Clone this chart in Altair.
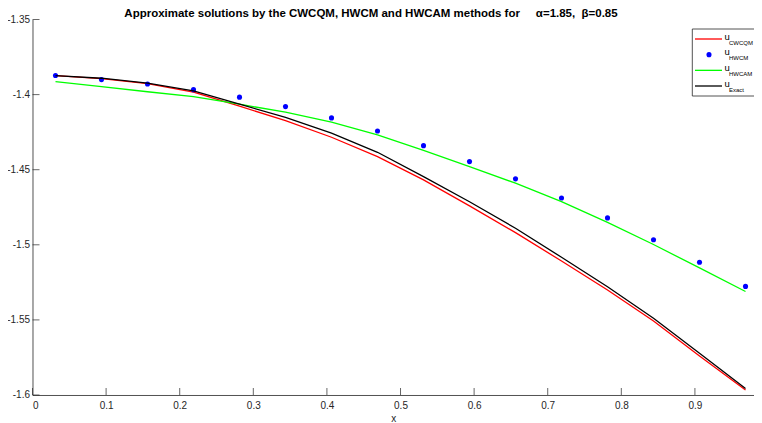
import altair as alt
import pandas as pd

# ---- data ----
x_nodes = [0.03125, 0.09375, 0.15625, 0.21875, 0.28125, 0.34375, 0.40625, 0.46875,
           0.53125, 0.59375, 0.65625, 0.71875, 0.78125, 0.84375, 0.90625, 0.96875]
u_cwcqm = [-1.3873, -1.3893, -1.3927, -1.3984, -1.4077, -1.4173, -1.4284, -1.4413,
           -1.4568, -1.4741, -1.4919, -1.5108, -1.5301, -1.5507, -1.5740, -1.5967]
u_hwcm = [-1.3873, -1.3900, -1.3929, -1.3967, -1.4017, -1.4080, -1.4155, -1.4242,
          -1.4340, -1.4446, -1.4561, -1.4688, -1.4821, -1.4966, -1.5116, -1.5277]
u_hwcam = [-1.3913, -1.3947, -1.3981, -1.4014, -1.4064, -1.4117, -1.4184, -1.4268,
           -1.4372, -1.4480, -1.4590, -1.4713, -1.4851, -1.4998, -1.5154, -1.5311]
u_exact = [-1.3873, -1.3891, -1.3924, -1.3975, -1.4064, -1.4151, -1.4257, -1.4384,
           -1.4546, -1.4713, -1.4890, -1.5083, -1.5279, -1.5489, -1.5722, -1.5957]

x_ticks = [0, 0.1, 0.2, 0.3, 0.4, 0.5, 0.6, 0.7, 0.8, 0.9]
y_ticks = [-1.6, -1.55, -1.5, -1.45, -1.4, -1.35]

legend_names = ["CWCQM", "HWCM", "HWCAM", "Exact"]
legend_kinds = ["line", "point", "line", "line"]
legend_colors = ["#ff0000", "#0000ff", "#00ff00", "#000000"]

NB = "\u00a0"
title_text = ("Approximate solutions by the CWCQM, HWCM and HWCAM methods for"
              + NB * 5 + "\u03b1=1.85," + NB * 2 + "\u03b2=0.85")

# ---- layout ----
W, H = 721.3, 375.5
AX = "#262626"
FONT = "Liberation Sans"

df = pd.DataFrame({
    "x": x_nodes * 4,
    "u": u_cwcqm + u_hwcm + u_hwcam + u_exact,
    "series": ["CWCQM"] * 16 + ["HWCM"] * 16 + ["HWCAM"] * 16 + ["Exact"] * 16,
})

xscale = alt.Scale(domain=[0, 0.98], nice=False, zero=False)
yscale = alt.Scale(domain=[-1.6, -1.35], nice=False, zero=False)
xaxis = alt.Axis(values=x_ticks, labelExpr="'' + datum.value", title="x",
                 labelPadding=6, titlePadding=3)
yaxis = alt.Axis(values=y_ticks, labelExpr="'' + datum.value", title=None,
                 labelPadding=3)


def X(field):
    return alt.X(field, type="quantitative", scale=xscale, axis=xaxis)


def Y(field):
    return alt.Y(field, type="quantitative", scale=yscale, axis=yaxis)


base = alt.Chart(df)
red = base.transform_filter(alt.datum.series == "CWCQM").mark_line(
    color="#ff0000", strokeWidth=1.3).encode(x=X("x"), y=Y("u"))
blue = base.transform_filter(alt.datum.series == "HWCM").mark_point(
    filled=True, color="#0000ff", size=26, opacity=1).encode(x=X("x"), y=Y("u"))
green = base.transform_filter(alt.datum.series == "HWCAM").mark_line(
    color="#00ff00", strokeWidth=1.3).encode(x=X("x"), y=Y("u"))
black = base.transform_filter(alt.datum.series == "Exact").mark_line(
    color="#000000", strokeWidth=1.3).encode(x=X("x"), y=Y("u"))

xt = alt.Chart(pd.DataFrame({"t": x_ticks})).mark_tick(
    orient="vertical", size=7, thickness=1, color=AX).encode(
    x=X("t"), y=alt.value(H - 3.5))
yt = alt.Chart(pd.DataFrame({"t": y_ticks})).mark_tick(
    orient="horizontal", size=7, thickness=1, color=AX).encode(
    y=Y("t"), x=alt.value(3.5))

main = alt.layer(red, blue, green, black, xt, yt)

# ---- legend (drawn with subscripts) ----
leg = alt.Chart(pd.DataFrame({"name": legend_names, "kind": legend_kinds}))
LY = alt.Y("name:N", sort=legend_names,
           scale=alt.Scale(type="point", range=[19.5, 66.5], padding=0), axis=None)
LC = alt.Color("name:N", scale=alt.Scale(domain=legend_names, range=legend_colors), legend=None)

box = alt.Chart(pd.DataFrame({"a": [0]})).mark_rect(
    fill="white", stroke=AX, strokeWidth=0.8).encode(
    x=alt.value(659.8), x2=alt.value(740), y=alt.value(9.5), y2=alt.value(76.5))
lrule = leg.transform_filter(alt.datum.kind == "line").mark_rule(strokeWidth=1.3).encode(
    x=alt.value(662.5), x2=alt.value(689.5), y=LY, color=LC)
lpoint = leg.transform_filter(alt.datum.kind == "point").mark_point(
    filled=True, size=26, opacity=1).encode(x=alt.value(676.5), y=LY, color=LC)
lu = leg.mark_text(align="left", baseline="middle", fontSize=9.5, font=FONT,
                   dy=-2.5, color="#000000").encode(
    x=alt.value(692), y=LY, text=alt.value("u"))
lsub = leg.mark_text(align="left", baseline="middle", fontSize=6, font=FONT,
                     dy=3.5, color="#000000").encode(
    x=alt.value(696.5), y=LY, text="name:N")

legend = alt.layer(box, lrule, lpoint, lu, lsub)

title = alt.Chart(pd.DataFrame({"a": [0]})).mark_text(
    font=FONT, fontSize=11.5, fontWeight="bold", align="center", baseline="top",
    color="#000000").encode(x=alt.value(338.5), y=alt.value(-11.5), text=alt.value(title_text))

chart = alt.layer(main, legend, title).resolve_scale(
    y="independent", color="independent"
).properties(
    width=W, height=H, autosize="none",
    padding={"left": 24.5, "top": 11.5, "right": 0, "bottom": 28},
).configure_view(stroke=None).configure_axis(
    domainColor=AX, domainWidth=0.8, labelColor=AX, labelFont=FONT, labelFontSize=10,
    ticks=False, tickSize=0, grid=False, titleFont=FONT, titleFontSize=10,
    titleFontWeight="normal", titleColor=AX,
)

chart.save("out.html", embed_options={"renderer": "svg", "actions": False})
